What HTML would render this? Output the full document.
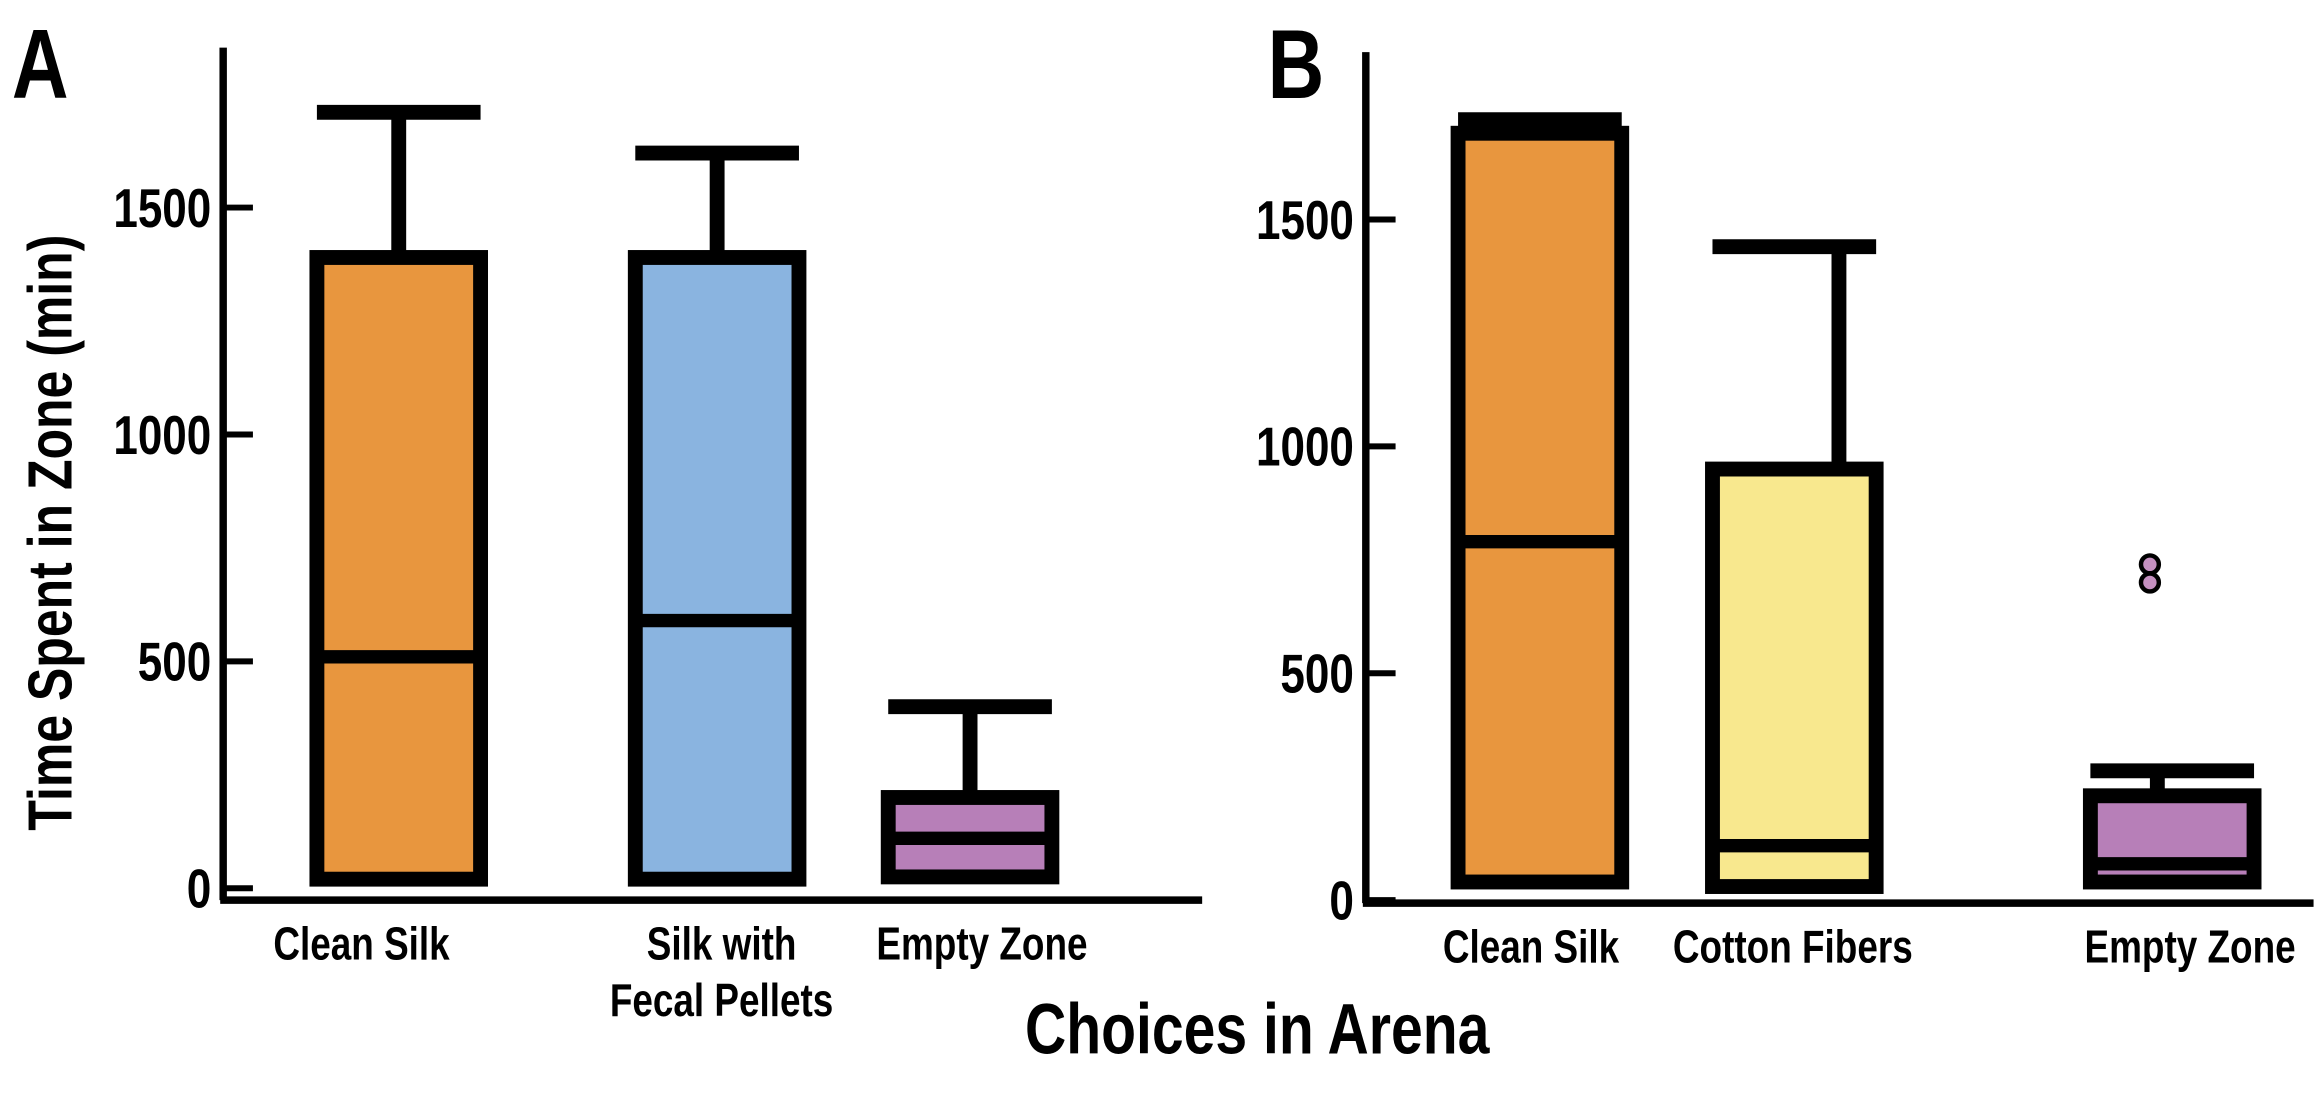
<!DOCTYPE html>
<html><head><meta charset="utf-8"><style>
html,body{margin:0;padding:0;background:#fff;}
svg{display:block;font-family:"Liberation Sans",sans-serif;font-weight:bold;}
</style></head><body>
<svg id="chart" width="2321" height="1104" viewBox="0 0 1560 742" xmlns="http://www.w3.org/2000/svg">
<text class="cond" x="8" y="66" font-size="66">A</text>
<text class="cond" x="852" y="66" font-size="66">B</text>
<text class="cond" transform="translate(48,358) rotate(-90)" text-anchor="middle" font-size="42">Time Spent in Zone (min)</text>
<text class="cond" x="845" y="708" text-anchor="middle" font-size="48">Choices in Arena</text>
<g id="pa"></g>
<g id="pb"></g>
</svg>
<script>
const aCategories=["Clean Silk","Silk with|Fecal Pellets","Empty Zone"];
const aWhiskerHi=[1710,1620,400];
const aQ3=[1390,1390,200];
const aMedian=[510,590,110];
const aQ1=[20,20,25];
const aColors=["#e8963e","#8ab4e0","#b77fb8"];
const aCenters=[268,482,652];
const aTicks=[0,500,1000,1500];

const bCategories=["Clean Silk","Cotton Fibers","Empty Zone"];
const bWhiskerHi=[1720,1440,285];
const bQ3=[1690,950,230];
const bMedian=[790,120,80];
const bQ1=[40,30,40];
const bColors=["#e8963e","#f8e88e","#b77fb8"];
const bCenters=[1035,1206,1460];
const bOutliers=[[2,740],[2,700]];
const bTicks=[0,500,1000,1500];

const NS="http://www.w3.org/2000/svg";
function mk(parent,tag,attrs){const e=document.createElementNS(NS,tag);for(const k in attrs)e.setAttribute(k,attrs[k]);parent.appendChild(e);return e;}

function panel(g,o){
  const y=v=>o.y0-v*o.k;
  const ax=mk(g,'line',{x1:o.ax,y1:o.top,x2:o.ax,y2:o.xb,stroke:'#000','stroke-width':5});
  
  
  const xa=mk(g,'line',{x1:o.ax-2,y1:o.xb,x2:o.right,y2:o.xb,stroke:'#000','stroke-width':5});
  
  
  o.ticks.forEach(t=>{
    const tl=mk(g,'line',{x1:o.ax,y1:y(t),x2:o.ax+20,y2:y(t),stroke:'#000','stroke-width':4});
    
    
    const tx=mk(g,'text',{x:o.ax-8,y:y(t)+13,'text-anchor':'end','font-size':37,class:'cond'});
    
    
    tx.textContent=t;
  });
  o.cats.forEach((c,i)=>{
    const cx=o.centers[i],hw=o.hw;
    const wx=o.wx?o.wx[i]:cx;
    const w=mk(g,'line',{x1:wx,y1:y(o.hi[i]),x2:wx,y2:y(o.q3[i]),stroke:'#000','stroke-width':10});
    
    
    const cap=mk(g,'line',{x1:cx-hw,y1:y(o.hi[i]),x2:cx+hw,y2:y(o.hi[i]),stroke:'#000','stroke-width':10});
    
    
    const r=mk(g,'rect',{x:cx-hw,y:y(o.q3[i]),width:2*hw,height:y(o.q1[i])-y(o.q3[i]),fill:o.colors[i],stroke:'#000','stroke-width':10});
    
    
    const m=mk(g,'line',{x1:cx-hw,y1:y(o.med[i]),x2:cx+hw,y2:y(o.med[i]),stroke:'#000','stroke-width':9});
    
    
    const lines=c.split('|');
    lines.forEach((l,j)=>{
      const t=mk(g,'text',{x:o.lx[i],y:o.xb+40+j*38,'text-anchor':'middle','font-size':31,class:'cond'});
      
      
      t.textContent=l;
    });
  });
  (o.out||[]).forEach(p=>{
    const ci=mk(g,'circle',{cx:o.centers[p[0]]-15,cy:y(p[1]),r:6,fill:'#c590c0',stroke:'#000','stroke-width':3});
    
    
  });
}
panel(document.getElementById('pa'),{ax:150,top:32,xb:605,right:808,y0:597,k:0.305,ticks:aTicks,cats:aCategories,hi:aWhiskerHi,q3:aQ3,med:aMedian,q1:aQ1,colors:aColors,centers:aCenters,hw:55,lx:[243,485,660]});
panel(document.getElementById('pb'),{ax:918,top:35,xb:607,right:1555,y0:605,k:0.305,ticks:bTicks,cats:bCategories,hi:bWhiskerHi,q3:bQ3,med:bMedian,q1:bQ1,colors:bColors,centers:bCenters,hw:55,wx:[1035,1236,1450],out:bOutliers,lx:[1029,1205,1472]});
document.querySelectorAll('text.cond').forEach(t=>{
  const L=t.getComputedTextLength();
  t.setAttribute('textLength',(L*0.8).toFixed(1));
  t.setAttribute('lengthAdjust','spacingAndGlyphs');
});
</script>
</body></html>
